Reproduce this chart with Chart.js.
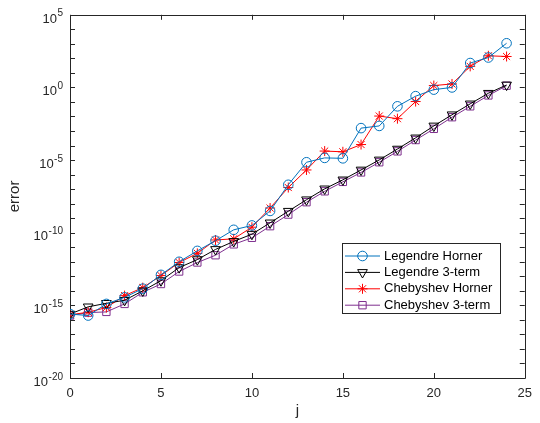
<!DOCTYPE html>
<html><head><meta charset="utf-8">
<script src="https://cdn.jsdelivr.net/npm/chart.js@4.4.1/dist/chart.umd.min.js"></script>
<style>html,body{margin:0;padding:0;background:#fff}#wrap{width:540px;height:423px;position:relative}</style>
</head><body><div id="wrap"><canvas id="c" width="540" height="423"></canvas></div>
<script>
// ---- data (log10 of error) ----
const jValues = [0,1,2,3,4,5,6,7,8,9,10,11,12,13,14,15,16,17,18,19,20,21,22,23,24];
const legendreHornerLog = [-15.6,-15.7,-14.9,-14.45,-13.85,-12.9,-12.0,-11.25,-10.55,-9.8,-9.5,-8.5,-6.7,-5.15,-4.85,-4.88,-2.8,-2.65,-1.3,-0.6,-0.15,0.0,1.68,2.06,3.04];
const legendre3TermLog = [-15.6,-15.1,-14.86,-14.65,-14.0,-13.3,-12.4,-11.85,-11.15,-10.6,-10.1,-9.32,-8.52,-7.73,-6.98,-6.36,-5.68,-4.99,-4.24,-3.47,-2.65,-1.88,-1.13,-0.4,0.17];
const chebyshevHornerLog = [-15.65,-15.47,-15.15,-14.33,-13.78,-12.95,-12.05,-11.42,-10.5,-10.42,-9.62,-8.3,-6.89,-5.68,-4.38,-4.43,-3.93,-1.97,-2.15,-0.97,0.13,0.24,1.45,2.18,2.13];
const chebyshev3TermLog = [-15.7,-15.5,-15.45,-14.9,-14.1,-13.53,-12.67,-12.05,-11.55,-10.8,-10.35,-9.55,-8.75,-7.9,-7.15,-6.5,-5.85,-5.15,-4.4,-3.62,-2.85,-2.05,-1.3,-0.55,0.12];
const xTickValues = [0,5,10,15,20,25];
const yTickDecades = [-20,-19,-18,-17,-16,-15,-14,-13,-12,-11,-10,-9,-8,-7,-6,-5,-4,-3,-2,-1,0,1,2,3,4,5];
const yLabelDecades = [-20,-15,-10,-5,0,5];
const seriesLabels = ['Legendre Horner','Legendre 3-term','Chebyshev Horner','Chebyshev 3-term'];

const toPts = arr => jValues.map((x, i) => ({x: x, y: Math.pow(10, arr[i])}));

const AX = '#262626';
const FONT = '"Liberation Sans", Arial, Helvetica, sans-serif';

function ds(label, arr, color, style, radius, rotation) {
  return {
    label: label, data: toPts(arr), borderColor: color, borderWidth: 1,
    pointStyle: style, pointRadius: radius, pointHoverRadius: radius, pointRotation: rotation || 0,
    pointBorderColor: color, pointBackgroundColor: 'rgba(0,0,0,0)', pointBorderWidth: 1,
    fill: false, tension: 0
  };
}

const axesPlugin = {
  id: 'matlabAxes',
  beforeDatasetsDraw(chart) {
    const {ctx, chartArea: a, scales} = chart;
    ctx.save();
    ctx.strokeStyle = AX; ctx.lineWidth = 1;
    ctx.beginPath();
    ctx.rect(Math.round(a.left) + 0.5, Math.round(a.top) + 0.5, Math.round(a.right - a.left), Math.round(a.bottom - a.top));
    ctx.stroke();
    ctx.beginPath();
    const L = 5;
    xTickValues.forEach(v => {
      const px = Math.round(scales.x.getPixelForValue(v)) + 0.5;
      ctx.moveTo(px, a.bottom); ctx.lineTo(px, a.bottom - L);
      ctx.moveTo(px, a.top); ctx.lineTo(px, a.top + L);
    });
    yTickDecades.forEach(k => {
      const py = Math.round(scales.y.getPixelForValue(Math.pow(10, k))) + 0.5;
      ctx.moveTo(a.left, py); ctx.lineTo(a.left + L, py);
      ctx.moveTo(a.right, py); ctx.lineTo(a.right - L, py);
    });
    ctx.stroke();
    // y tick labels "10^k" with raised exponent, placed by the y scale
    const ys = scales.y;
    const rightEdge = ys.right - 7;
    ctx.fillStyle = AX; ctx.textAlign = 'left';
    yLabelDecades.forEach(k => {
      const py = ys.getPixelForValue(Math.pow(10, k));
      const expStr = String(k);
      ctx.font = '10px ' + FONT;
      const ew = ctx.measureText(expStr).width;
      ctx.font = '13px ' + FONT;
      const tw = ctx.measureText('10').width;
      const ex = rightEdge - ew;
      const tx = ex - tw - 0.5;
      ctx.textBaseline = 'alphabetic';
      ctx.fillText('10', tx, py + 7.7);
      ctx.font = '10px ' + FONT;
      ctx.fillText(expStr, ex, py + 1.5);
    });
    ctx.restore();
  }
};

const legendPlugin = {
  id: 'boxLegend',
  afterDraw(chart) {
    const ctx = chart.ctx;
    const bx = 342, by = 243, bw = 158, bh = 70;
    ctx.save();
    ctx.fillStyle = '#fff';
    ctx.fillRect(bx, by, bw, bh);
    ctx.strokeStyle = AX; ctx.lineWidth = 1;
    ctx.strokeRect(bx + 0.5, by + 0.5, bw, bh);
    chart.data.datasets.forEach((d, i) => {
      const y = 256 + i * 16.4;
      ctx.strokeStyle = d.borderColor; ctx.lineWidth = 1;
      ctx.beginPath(); ctx.moveTo(345, y); ctx.lineTo(380, y); ctx.stroke();
      ctx.fillStyle = 'rgba(0,0,0,0)';
      Chart.helpers.drawPoint(ctx, {pointStyle: d.pointStyle, rotation: d.pointRotation, radius: d.pointRadius, borderWidth: 1}, 362.5, y);
      ctx.fillStyle = '#000';
      ctx.font = '13px ' + FONT;
      ctx.textBaseline = 'middle'; ctx.textAlign = 'left';
      ctx.fillText(d.label, 384, y);
    });
    ctx.restore();
  }
};

new Chart(document.getElementById('c'), {
  type: 'line',
  data: {
    datasets: [
      ds(seriesLabels[0], legendreHornerLog, '#0072BD', 'circle', 4.8),
      ds(seriesLabels[1], legendre3TermLog, '#000000', 'triangle', 5.6, 180),
      ds(seriesLabels[2], chebyshevHornerLog, '#FF0000', 'star', 5),
      ds(seriesLabels[3], chebyshev3TermLog, '#7E2F8E', 'rect', 5.2)
    ]
  },
  options: {
    responsive: false, animation: false, devicePixelRatio: 1,
    layout: {padding: {left: 6, right: 7, top: 12, bottom: 3}},
    plugins: {legend: {display: false}, tooltip: {enabled: false}},
    scales: {
      x: {
        type: 'linear', min: 0, max: 25,
        afterBuildTicks(s) { s.ticks = xTickValues.map(v => ({value: v})); },
        afterFit(s) { s.height = 42; },
        grid: {display: false, drawTicks: false}, border: {display: false},
        ticks: {color: AX, font: {family: FONT, size: 13}, padding: 8, maxRotation: 0, autoSkip: false},
        title: {display: true, text: 'j', color: AX, font: {family: FONT, size: 15}, padding: 0}
      },
      y: {
        type: 'logarithmic', min: 1e-20, max: 1e5,
        afterBuildTicks(s) { s.ticks = yTickDecades.map(k => ({value: Math.pow(10, k)})); },
        afterFit(s) { s.width = 64; },
        grid: {display: false, drawTicks: false}, border: {display: false},
        ticks: {display: true, color: AX, font: {family: FONT, size: 13}, padding: 7, autoSkip: false,
          callback() { return ''; }},
        title: {display: true, text: 'error', color: AX, font: {family: FONT, size: 15}, padding: 0}
      }
    }
  },
  plugins: [axesPlugin, legendPlugin]
});
</script>
</body></html>
